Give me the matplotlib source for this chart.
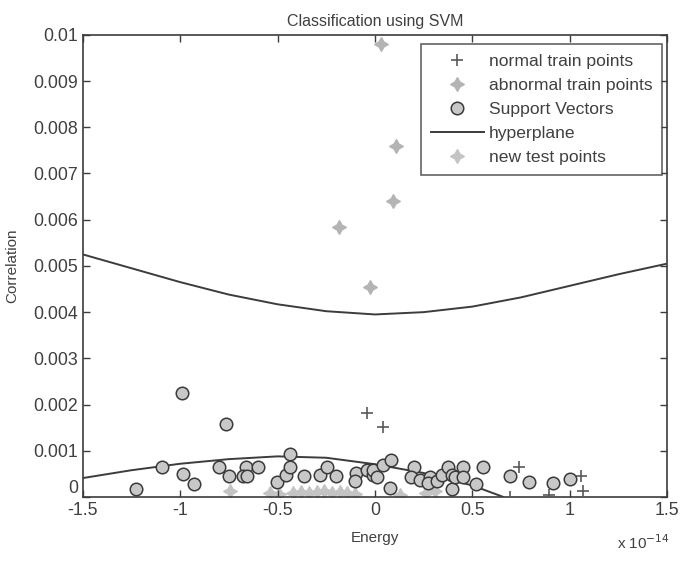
import matplotlib
matplotlib.use("Agg")
import matplotlib.pyplot as plt
import numpy as np

plt.rcParams['font.family'] = ['Liberation Sans', 'DejaVu Sans']

# Energy values are in units of 1e-14
normal_x = [-0.043, 0.039, 0.74, 0.692, 0.894, 1.055, 1.065]
normal_y = [1.81e-3, 1.51e-3, 0.66e-3, 0.0, 0.04e-3, 0.45e-3, 0.12e-3]

abnormal_x = [0.031, 0.108, 0.094, -0.183, -0.026]
abnormal_y = [9.80e-3, 7.60e-3, 6.41e-3, 5.85e-3, 4.55e-3]

test_x = [-0.744, -0.54, -0.49, -0.42, -0.38, -0.34, -0.30, -0.26, -0.22, -0.18,
          -0.145, -0.10, 0.128, 0.26, 0.31]
test_y = [0.14e-3, 0.08e-3, 0.06e-3, 0.08e-3, 0.1e-3, 0.08e-3, 0.1e-3, 0.12e-3, 0.08e-3,
          0.1e-3, 0.08e-3, 0.06e-3, 0.05e-3, 0.08e-3, 0.12e-3]

sv_x = [-0.988, -0.764, -1.226, -1.092, -0.983, -0.927, -0.798, -0.749, -0.662, -0.678,
        -0.658, -0.598, -0.504, -0.456, -0.436, -0.436, -0.362, -0.282, -0.248, -0.2,
        -0.097, -0.103, -0.043, -0.01, -0.009, 0.009, 0.043, 0.08, 0.077, 0.2, 0.183,
        0.23, 0.28, 0.273, 0.316, 0.342, 0.376, 0.393, 0.393, 0.41, 0.453, 0.45, 0.518,
        0.552, 0.692, 0.79, 0.915, 1.003]
sv_y = [2.24e-3, 1.59e-3, 0.17e-3, 0.64e-3, 0.49e-3, 0.28e-3, 0.64e-3, 0.45e-3, 0.66e-3,
        0.45e-3, 0.45e-3, 0.64e-3, 0.32e-3, 0.48e-3, 0.64e-3, 0.93e-3, 0.45e-3, 0.48e-3,
        0.64e-3, 0.45e-3, 0.53e-3, 0.35e-3, 0.58e-3, 0.48e-3, 0.58e-3, 0.44e-3, 0.69e-3,
        0.8e-3, 0.2e-3, 0.66e-3, 0.44e-3, 0.37e-3, 0.43e-3, 0.3e-3, 0.35e-3, 0.48e-3,
        0.66e-3, 0.48e-3, 0.17e-3, 0.43e-3, 0.66e-3, 0.44e-3, 0.28e-3, 0.66e-3, 0.45e-3,
        0.33e-3, 0.31e-3, 0.38e-3]

hyp_upper_x = [-1.5, -1.25, -1.0, -0.75, -0.5, -0.25, 0.0, 0.25, 0.5, 0.75, 1.0, 1.25, 1.5]
hyp_upper_y = [5.25e-3, 4.95e-3, 4.65e-3, 4.38e-3, 4.17e-3, 4.02e-3, 3.95e-3, 4.0e-3,
               4.12e-3, 4.32e-3, 4.57e-3, 4.82e-3, 5.05e-3]
hyp_lower_x = [-1.5, -1.25, -1.0, -0.75, -0.5, -0.25, 0.0, 0.25, 0.5, 0.66]
hyp_lower_y = [0.41e-3, 0.58e-3, 0.72e-3, 0.82e-3, 0.88e-3, 0.85e-3, 0.71e-3, 0.52e-3,
               0.25e-3, 0.0]

xticks = [-1.5, -1, -0.5, 0, 0.5, 1, 1.5]
xticklabels = ['-1.5', '-1', '-0.5', '0', '0.5', '1', '1.5']
yticks = [i * 0.001 for i in range(11)]
yticklabels = ['0', '0.001', '0.002', '0.003', '0.004', '0.005', '0.006', '0.007',
               '0.008', '0.009', '0.01']

dark = '#3c3c3c'
txt = '#404040'
star = (4, 1, 0)

fig = plt.figure(figsize=(6.83, 5.61), dpi=100)
ax = fig.add_axes([0.121, 0.114, 0.856, 0.824])

ax.plot(normal_x, normal_y, '+', color='#5a5a5a', ms=9, mew=1.2, label='normal train points', zorder=3)
ax.plot(abnormal_x, abnormal_y, marker=star, ls='none', color='#b4b4b4', ms=10, label='abnormal train points', zorder=3)
ax.plot(sv_x, sv_y, 'o', mfc='#c8c8c8', mec='#3a3a3a', ms=9, mew=1.1, label='Support Vectors', zorder=4)
ax.plot(hyp_upper_x, hyp_upper_y, '-', color=dark, lw=1.4, label='hyperplane', zorder=2)
ax.plot(hyp_lower_x, hyp_lower_y, '-', color=dark, lw=1.4, zorder=2)
ax.plot(test_x, test_y, marker=star, ls='none', color='#c4c4c4', ms=10, label='new test points', zorder=1)

ax.set_xlim(-1.5, 1.5)
ax.set_ylim(0, 0.01)
ax.set_xticks(xticks)
ax.set_xticklabels(xticklabels)
ax.set_yticks(yticks)
ax.set_yticklabels(yticklabels)
ax.tick_params(direction='in', top=True, right=True, length=5, colors=dark,
               labelcolor=txt, labelsize=12.8, width=1)
ax.get_yticklabels()[0].set_va('bottom')
for s in ax.spines.values():
    s.set_color(dark)
    s.set_linewidth(1.2)

ax.set_title('Classification using SVM', fontsize=11.5, color=txt, pad=6)
ax.set_xlabel('Energy', fontsize=11, color=txt, labelpad=9)
ax.set_ylabel('Correlation', fontsize=11, color=txt)
ax.yaxis.set_label_coords(-0.108, 0.5)
fig.text(0.903, 0.022, r'x 10$^{-14}$', fontsize=11, color=txt, ha='left')

leg = ax.legend(loc='upper right', bbox_to_anchor=(0.991, 0.979), fontsize=12.6,
                frameon=True, fancybox=False, edgecolor=dark, handlelength=3.0,
                labelspacing=0.5, borderpad=0.55, handletextpad=0.3, borderaxespad=0)
leg.get_frame().set_linewidth(1.2)
for t in leg.get_texts():
    t.set_color(txt)

fig.savefig('out.png', dpi=100)
